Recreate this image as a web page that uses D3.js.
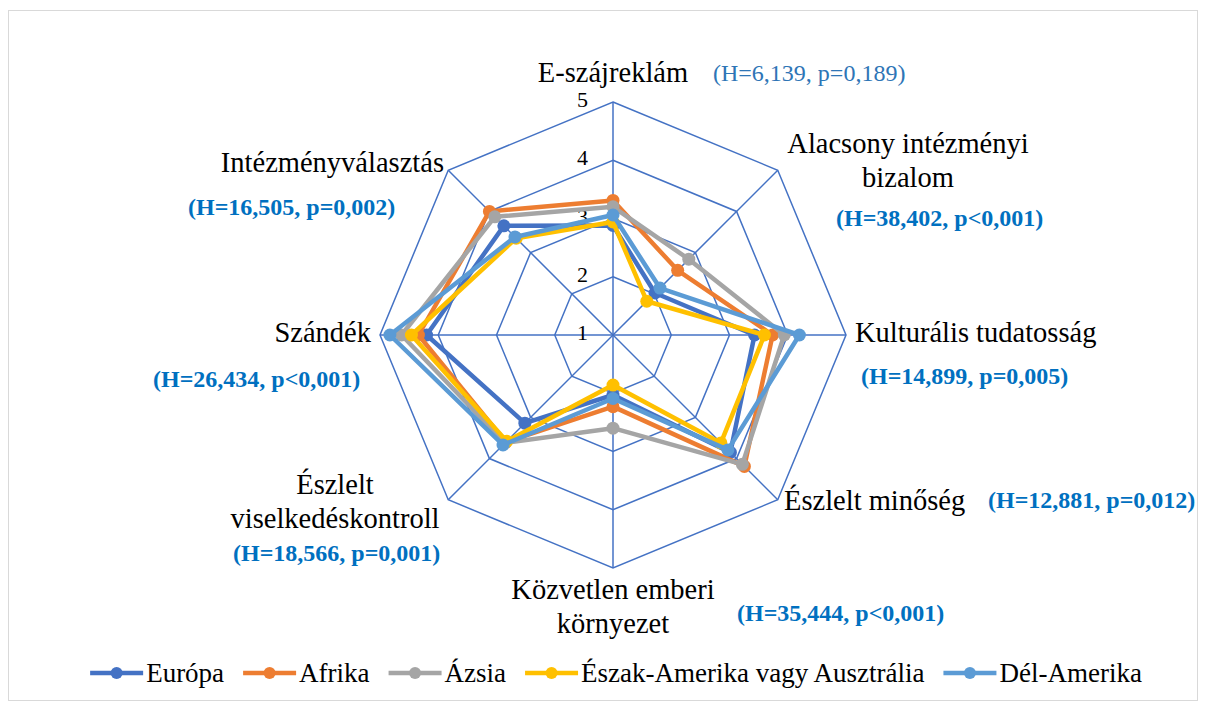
<!DOCTYPE html>
<html>
<head>
<meta charset="utf-8">
<title>Radar</title>
<style>
  body { margin: 0; background: #fff; }
  text { font-family: "Liberation Serif", "Times New Roman", serif; }
</style>
</head>
<body>
<script src="https://cdnjs.cloudflare.com/ajax/libs/d3/7.8.5/d3.min.js"></script>
<script>
// ---------- data ----------
var categories = ["E-szájreklám", "Alacsony intézményi bizalom", "Kulturális tudatosság",
  "Észlelt minőség", "Közvetlen emberi környezet", "Észlelt viselkedéskontroll",
  "Szándék", "Intézményválasztás"];
var stats = ["(H=6,139, p=0,189)", "(H=38,402, p<0,001)", "(H=14,899, p=0,005)",
  "(H=12,881, p=0,012)", "(H=35,444, p<0,001)", "(H=18,566, p=0,001)",
  "(H=26,434, p<0,001)", "(H=16,505, p=0,002)"];
var seriesNames = ["Európa", "Afrika", "Ázsia", "Észak-Amerika vagy Ausztrália", "Dél-Amerika"];
var europa  = [2.88, 2.02, 3.43, 3.85, 2.03, 3.14, 4.20, 3.65];
var afrika  = [3.31, 2.57, 3.74, 4.19, 2.23, 3.60, 4.34, 4.00];
var azsia   = [3.20, 2.84, 3.94, 4.14, 2.60, 3.62, 4.63, 3.87];
var eszak   = [2.94, 1.82, 3.60, 3.62, 1.86, 3.58, 4.46, 3.35];
var delAm   = [3.06, 2.14, 4.20, 3.79, 2.09, 3.67, 4.83, 3.38];
var tickValues = [1, 2, 3, 4, 5];

var seriesValues = [europa, afrika, azsia, eszak, delAm];
var colors = ["#4472C4", "#ED7D31", "#A5A5A5", "#FFC000", "#5B9BD5"];

// ---------- layout ----------
var W = 1205, H = 709;
var cx = 613, cy = 335;

var svg = d3.select("body").append("svg")
    .attr("width", W)
    .attr("height", H);

svg.append("rect")
    .attr("x", 8.5).attr("y", 10.5)
    .attr("width", 1189).attr("height", 690)
    .attr("fill", "#fff")
    .attr("stroke", "#D9D9D9");

var rScale = d3.scaleLinear().domain([1, 5]).range([0, 233]);
var aScale = d3.scaleLinear().domain([0, categories.length]).range([0, 2 * Math.PI]);

var g = svg.append("g").attr("transform", "translate(" + cx + "," + cy + ")");

function pt(i, v) {
    var a = aScale(i), r = rScale(v);
    return [r * Math.sin(a), -r * Math.cos(a)];
}

// grid rings
tickValues.forEach(function(t) {
    g.append("path")
        .attr("d", d3.line()(categories.map(function(c, i) { return pt(i, t); })) + "Z")
        .attr("fill", "none")
        .attr("stroke", "#4472C4")
        .attr("stroke-width", 1.5);
});
// spokes
categories.forEach(function(c, i) {
    var p = pt(i, 5);
    g.append("line")
        .attr("x1", 0).attr("y1", 0)
        .attr("x2", p[0]).attr("y2", p[1])
        .attr("stroke", "#4472C4")
        .attr("stroke-width", 1.5);
});
// tick labels
g.selectAll("text.tick")
    .data(tickValues)
    .enter().append("text")
    .attr("class", "tick")
    .attr("x", -25)
    .attr("y", function(d) { return -rScale(d) + 5; })
    .attr("text-anchor", "end")
    .attr("font-size", "22px")
    .attr("fill", "#000")
    .text(function(d) { return d; });

// series
var line = d3.lineRadial()
    .angle(function(d, i) { return aScale(i); })
    .radius(function(d) { return rScale(d); })
    .curve(d3.curveLinearClosed);

seriesValues.forEach(function(vals, s) {
    var sg = g.append("g");
    sg.append("path")
        .attr("d", line(vals))
        .attr("fill", "none")
        .attr("stroke", colors[s])
        .attr("stroke-width", 4.5)
        .attr("stroke-linejoin", "round");
    sg.selectAll("circle")
        .data(vals)
        .enter().append("circle")
        .attr("cx", function(d, i) { return pt(i, d)[0]; })
        .attr("cy", function(d, i) { return pt(i, d)[1]; })
        .attr("r", 6.5)
        .attr("fill", colors[s]);
});

// category labels (lines, anchor, x, y of first baseline) and stat labels
var labelLayout = [
    { lines: [categories[0]], anchor: "middle", x: 613, y: 82, sx: 713, sy: 81, bold: false },
    { lines: ["Alacsony intézményi", "bizalom"], anchor: "middle", x: 908, y: 153, sx: 836, sy: 226, bold: true },
    { lines: [categories[2]], anchor: "start", x: 855, y: 342, sx: 861, sy: 384, bold: true },
    { lines: [categories[3]], anchor: "start", x: 784, y: 510, sx: 988, sy: 508, bold: true },
    { lines: ["Közvetlen emberi", "környezet"], anchor: "middle", x: 613, y: 599, sx: 737, sy: 621, bold: true },
    { lines: ["Észlelt", "viselkedéskontroll"], anchor: "middle", x: 335, y: 494, sx: 233, sy: 561, bold: true },
    { lines: [categories[6]], anchor: "end", x: 371, y: 342, sx: 153, sy: 387, bold: true },
    { lines: [categories[7]], anchor: "end", x: 444, y: 172, sx: 188, sy: 215, bold: true }
];

labelLayout.forEach(function(L, i) {
    var t = svg.append("text")
        .attr("text-anchor", L.anchor)
        .attr("font-size", "28.5px")
        .attr("fill", "#000");
    L.lines.forEach(function(ln, k) {
        t.append("tspan")
            .attr("x", L.x)
            .attr("y", L.y + k * 34)
            .text(ln);
    });
    svg.append("text")
        .attr("x", L.sx)
        .attr("y", L.sy)
        .attr("font-size", "24px")
        .attr("font-weight", L.bold ? "bold" : "normal")
        .attr("fill", L.bold ? "#0070C0" : "#2E75B6")
        .text(stats[i]);
});

// legend
var legend = svg.append("g");
var x = 0;
seriesNames.forEach(function(name, s) {
    var item = legend.append("g").attr("transform", "translate(" + x + ",0)");
    item.append("line")
        .attr("x1", 0).attr("x2", 53)
        .attr("y1", 0).attr("y2", 0)
        .attr("stroke", colors[s])
        .attr("stroke-width", 4.5);
    item.append("circle")
        .attr("cx", 26.5).attr("cy", 0).attr("r", 6)
        .attr("fill", colors[s]);
    var tx = item.append("text")
        .attr("x", 56).attr("y", 9)
        .attr("font-size", "27px")
        .attr("fill", "#000")
        .text(name);
    x += 56 + tx.node().getComputedTextLength() + 19;
});
var legW = x - 19;
legend.attr("transform", "translate(" + (616 - legW / 2) + ",673)");
</script>
</body>
</html>
